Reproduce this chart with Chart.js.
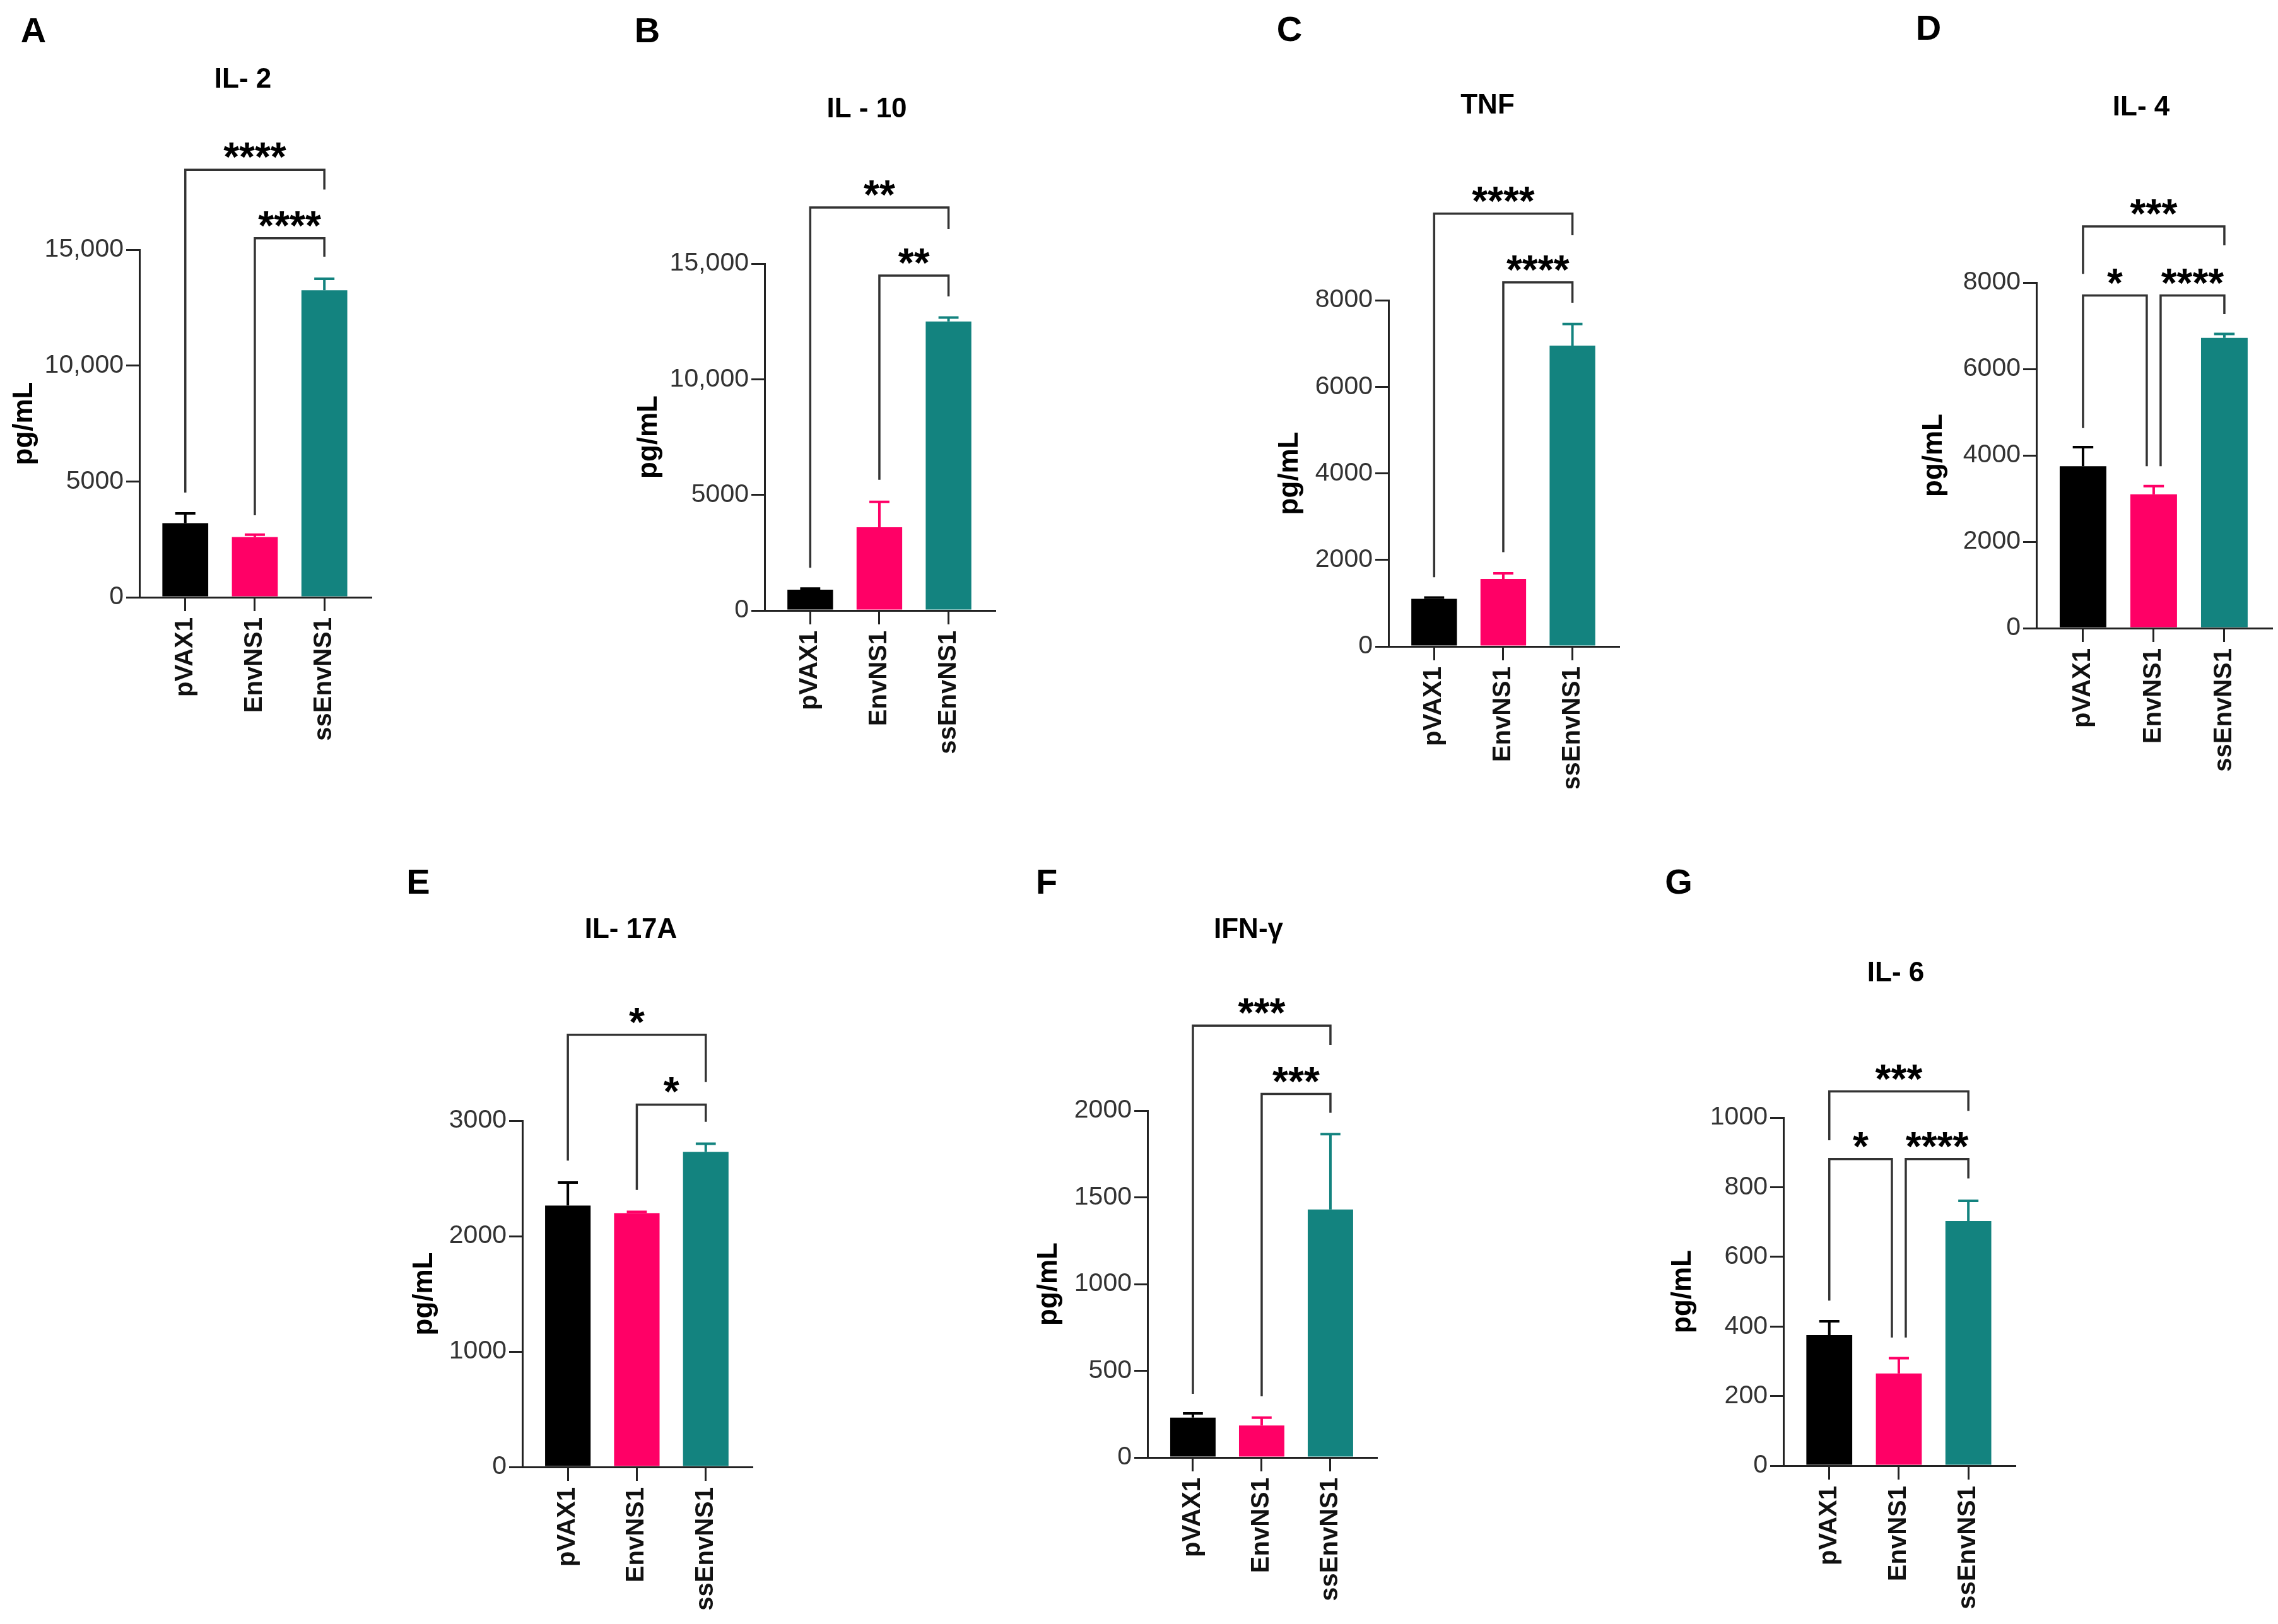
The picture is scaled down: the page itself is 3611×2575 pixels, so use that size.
<!DOCTYPE html>
<html><head><meta charset="utf-8">
<script src="https://cdn.jsdelivr.net/npm/chart.js@4.4.1/dist/chart.umd.min.js"></script>
<style>
html,body{margin:0;padding:0;background:#fff;overflow:hidden;width:3611px;height:2575px;position:relative}
canvas{position:absolute}
</style></head><body>
<script>
// ---------------- DATA ----------------
const categories = ['pVAX1', 'EnvNS1', 'ssEnvNS1'];
const panelLetters = ['A', 'B', 'C', 'D', 'E', 'F', 'G'];
const panelTitles = ['IL- 2', 'IL - 10', 'TNF', 'IL- 4', 'IL- 17A', 'IFN-\u03b3', 'IL- 6'];
const yAxisLabel = 'pg/mL';

const il2Values   = [3200, 2600, 13250];  const il2Errors   = [420, 100, 500];
const il10Values  = [900, 3600, 12500];   const il10Errors  = [50, 1100, 170];
const tnfValues   = [1100, 1560, 6950];   const tnfErrors   = [30, 130, 500];
const il4Values   = [3750, 3100, 6720];   const il4Errors   = [440, 190, 90];
const il17aValues = [2265, 2200, 2730];   const il17aErrors = [200, 10, 70];
const ifngValues  = [230, 185, 1430];     const ifngErrors  = [25, 45, 435];
const il6Values   = [375, 265, 703];      const il6Errors   = [40, 44, 58];

const yMaxValues  = [15000, 15000, 8000, 8000, 3000, 2000, 1000];
const yStepValues = [5000, 5000, 2000, 2000, 1000, 500, 200];

// comparisons: [fromIndex, toIndex, bracketLevel, stars, leftLegBottom, rightLegBottom]
const il2Comparisons   = [[0, 2, 18450, '****', 4520, 17600], [1, 2, 15500, '****', 3540, 14700]];
const il10Comparisons  = [[0, 2, 17430, '**', 1850, 16500], [1, 2, 14480, '**', 5650, 13580]];
const tnfComparisons   = [[0, 2, 10000, '****', 1600, 9500], [1, 2, 8410, '****', 2180, 7940]];
const il4Comparisons   = [[0, 2, 9300, '***', 8200, 8860], [0, 1, 7700, '*', 4630, 3750], [1, 2, 7700, '****', 3750, 7270]];
const il17aComparisons = [[0, 2, 3745, '*', 2655, 3335], [1, 2, 3140, '*', 2400, 2990]];
const ifngComparisons  = [[0, 2, 2490, '***', 367, 2378], [1, 2, 2096, '***', 353, 1987]];
const il6Comparisons   = [[0, 2, 1075, '***', 935, 1019], [0, 1, 881, '*', 474, 368], [1, 2, 881, '****', 368, 825]];

// ---------------- STYLE / LAYOUT ----------------
const barColors = ['#000000', '#FF0066', '#13837F'];
const FONT = "'Liberation Sans', Arial, sans-serif";
const AXIS_COLOR = '#222';
// chart area bounds (page px), title / letter centres, y-label offset from axis
const layouts = [
  {L: 221,  R: 588,  T: 396,  B: 947,  tx: 385,  ty: 127,  lx: 53,   ly: 52,   d: 182, top: 0,    h: 1250},
  {L: 1212, R: 1577, T: 418,  B: 968,  tx: 1374, ty: 174,  lx: 1026, ly: 52,   d: 183, top: 0,    h: 1250},
  {L: 2201, R: 2566, T: 476,  B: 1025, tx: 2358, ty: 168,  lx: 2044, ly: 50,   d: 156, top: 0,    h: 1250},
  {L: 3228, R: 3601, T: 448,  B: 996,  tx: 3394, ty: 171,  lx: 3057, ly: 48,   d: 162, top: 0,    h: 1250},
  {L: 828,  R: 1192, T: 1777, B: 2326, tx: 1000, ty: 1475, lx: 663,  ly: 1402, d: 155, top: 1290, h: 1285},
  {L: 1819, R: 2182, T: 1761, B: 2311, tx: 1979, ty: 1475, lx: 1659, ly: 1402, d: 156, top: 1290, h: 1285},
  {L: 2827, R: 3194, T: 1772, B: 2324, tx: 3005, ty: 1544, lx: 2661, ly: 1402, d: 159, top: 1290, h: 1285}
];
const Y_SCALE_W = 215;
const PAD_R = 12;

const panelValues = [il2Values, il10Values, tnfValues, il4Values, il17aValues, ifngValues, il6Values];
const panelErrors = [il2Errors, il10Errors, tnfErrors, il4Errors, il17aErrors, ifngErrors, il6Errors];
const panelComparisons = [il2Comparisons, il10Comparisons, tnfComparisons, il4Comparisons, il17aComparisons, ifngComparisons, il6Comparisons];

function fmtTick(v) { return v >= 10000 ? v.toLocaleString('en-US') : String(v); }

const annotPlugin = {
  id: 'annot',
  afterDatasetsDraw(chart, args, opts) {
    const ctx = chart.ctx;
    const xs = chart.scales.x, ys = chart.scales.y;
    const meta = chart.getDatasetMeta(0);
    ctx.save();
    meta.data.forEach((bar, i) => {
      const v = opts.values[i], e = opts.errors[i];
      const x = xs.getPixelForValue(i);
      const y0 = ys.getPixelForValue(v);
      const y1 = ys.getPixelForValue(v + e);
      const cw = bar.width * 0.44;
      ctx.strokeStyle = barColors[i];
      ctx.lineWidth = 4;
      ctx.beginPath();
      ctx.moveTo(x, y0); ctx.lineTo(x, y1);
      ctx.moveTo(x - cw / 2, y1); ctx.lineTo(x + cw / 2, y1);
      ctx.stroke();
    });
    ctx.restore();
  },
  afterDraw(chart, args, opts) {
    const ctx = chart.ctx;
    const xs = chart.scales.x, ys = chart.scales.y;
    const comps = opts.comps;
    ctx.save();
    comps.forEach(c => {
      const [a, b, lvl, txt, lb, rb] = c;
      const shareL = comps.some(o => o !== c && o[2] === lvl && o[1] === a);
      const shareR = comps.some(o => o !== c && o[2] === lvl && o[0] === b);
      const x1 = xs.getPixelForValue(a) + (shareL ? 11 : 0);
      const x2 = xs.getPixelForValue(b) - (shareR ? 11 : 0);
      const y = ys.getPixelForValue(lvl);
      ctx.strokeStyle = '#333';
      ctx.lineWidth = 3.5;
      ctx.lineJoin = 'miter';
      ctx.beginPath();
      ctx.moveTo(x1, ys.getPixelForValue(lb));
      ctx.lineTo(x1, y);
      ctx.lineTo(x2, y);
      ctx.lineTo(x2, ys.getPixelForValue(rb));
      ctx.stroke();
      ctx.fillStyle = '#000';
      ctx.font = 'bold 64px ' + FONT;
      ctx.textAlign = 'center';
      ctx.textBaseline = 'alphabetic';
      ctx.fillText(txt, (x1 + x2) / 2, y + 2);
    });
    // panel letter and title
    ctx.fillStyle = '#000';
    ctx.textAlign = 'center';
    ctx.textBaseline = 'middle';
    ctx.font = 'bold 56px ' + FONT;
    ctx.fillText(opts.letter, opts.lx, opts.ly);
    ctx.font = 'bold 44px ' + FONT;
    ctx.fillText(opts.title, opts.tx, opts.ty);
    ctx.restore();
  }
};

layouts.forEach((lay, p) => {
  const cLeft = lay.L - Y_SCALE_W;
  const cTop = lay.top;
  const cW = lay.R - cLeft + PAD_R;
  const cH = lay.h;
  const canvas = document.createElement('canvas');
  canvas.width = cW; canvas.height = cH;
  canvas.style.left = cLeft + 'px'; canvas.style.top = cTop + 'px';
  canvas.style.width = cW + 'px'; canvas.style.height = cH + 'px';
  document.body.appendChild(canvas);
  const xH = cTop + cH - lay.B;
  const titleLH = 44 * 1.2;
  const values = panelValues[p];

  new Chart(canvas, {
    type: 'bar',
    data: {
      datasets: [{
        data: values.map((v, i) => ({x: i, y: v})),
        backgroundColor: barColors,
        borderWidth: 0,
        barPercentage: 0.66,
        categoryPercentage: 1
      }]
    },
    options: {
      responsive: false,
      animation: false,
      devicePixelRatio: 1,
      layout: {padding: {top: lay.T - cTop, left: 0, right: PAD_R, bottom: 0}},
      plugins: {
        legend: {display: false},
        tooltip: {enabled: false},
        annot: {
          values: values, errors: panelErrors[p], comps: panelComparisons[p],
          letter: panelLetters[p], title: panelTitles[p],
          lx: lay.lx - cLeft, ly: lay.ly - cTop, tx: lay.tx - cLeft, ty: lay.ty - cTop
        }
      },
      scales: {
        x: {
          type: 'linear', min: -0.66, max: 2.67, offset: false,
          afterBuildTicks: s => { s.ticks = categories.map((c, i) => ({value: i})); },
          afterFit: s => { s.height = xH; },
          ticks: {
            callback: v => categories[v],
            minRotation: 90, maxRotation: 90, autoSkip: false, padding: 10,
            font: {family: FONT, size: 40, weight: 'bold'}, color: '#111'
          },
          grid: {display: true, offset: false, drawOnChartArea: false, drawTicks: true, tickLength: 22, color: AXIS_COLOR, lineWidth: 3},
          border: {display: true, color: AXIS_COLOR, width: 3}
        },
        y: {
          min: 0, max: yMaxValues[p],
          afterFit: s => { s.width = Y_SCALE_W; },
          ticks: {
            stepSize: yStepValues[p], callback: v => fmtTick(v), padding: 4,
            font: {family: FONT, size: 41}, color: '#333'
          },
          grid: {display: true, offset: false, drawOnChartArea: false, drawTicks: true, tickLength: 21, color: AXIS_COLOR, lineWidth: 3},
          border: {display: true, color: AXIS_COLOR, width: 3},
          title: {
            display: true, text: yAxisLabel, color: '#000',
            font: {family: FONT, size: 44, weight: 'bold'},
            padding: {top: Math.max(0, Y_SCALE_W - lay.d - titleLH / 2), bottom: 0}
          }
        }
      }
    },
    plugins: [annotPlugin]
  });
});
</script>
</body></html>
